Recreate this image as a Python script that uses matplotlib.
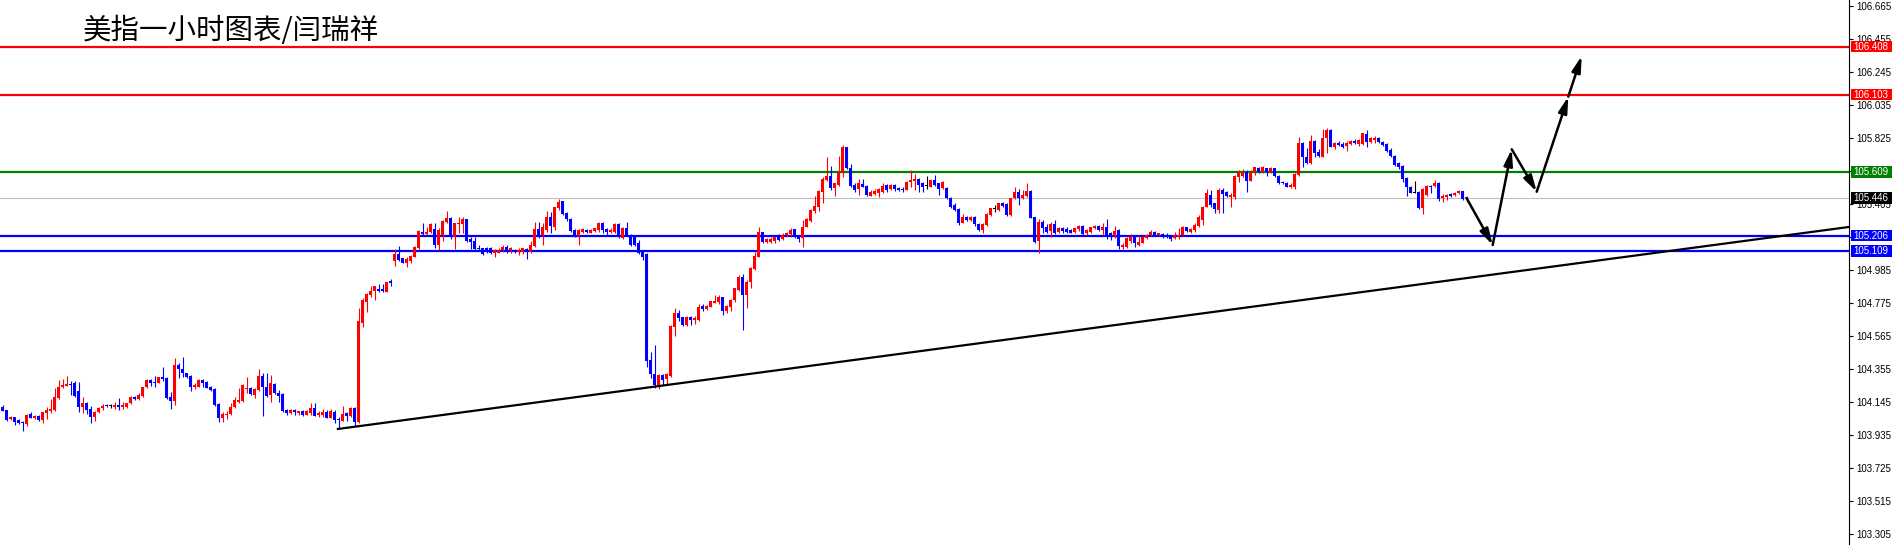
import matplotlib
matplotlib.use("Agg")
import matplotlib.pyplot as plt
import numpy as np
from matplotlib.patches import Rectangle
from matplotlib.transforms import blended_transform_factory

# hourly candles (index 0 = leftmost bar)
opens = [
    104.113, 104.096, 104.037, 104.050, 104.033, 104.022, 104.007, 104.069, 104.043, 104.058,
    104.033, 104.079, 104.092, 104.096, 104.171, 104.241, 104.251, 104.262, 104.266, 104.217,
    104.118, 104.139, 104.101, 104.054, 104.082, 104.107, 104.122, 104.120, 104.113, 104.128,
    104.118, 104.113, 104.139, 104.181, 104.166, 104.188, 104.241, 104.287, 104.270, 104.270,
    104.308, 104.302, 104.181, 104.156, 104.383, 104.355, 104.330, 104.313, 104.241, 104.245,
    104.287, 104.277, 104.245, 104.228, 104.135, 104.043, 104.063, 104.069, 104.118, 104.145,
    104.156, 104.228, 104.234, 104.192, 104.224, 104.313, 104.245, 104.192, 104.262, 104.202,
    104.196, 104.096, 104.075, 104.096, 104.075, 104.090, 104.065, 104.075, 104.107, 104.063,
    104.065, 104.086, 104.048, 104.086, 104.035, 104.029, 104.075, 104.058, 104.111, 104.022,
    104.648, 104.786, 104.829, 104.854, 104.867, 104.865, 104.850, 104.920, 105.045, 105.089,
    105.062, 105.030, 105.041, 105.072, 105.125, 105.231, 105.217, 105.227, 105.246, 105.147,
    105.210, 105.291, 105.320, 105.195, 105.280, 105.280, 105.312, 105.183, 105.172, 105.130,
    105.125, 105.125, 105.125, 105.094, 105.098, 105.111, 105.136, 105.111, 105.115, 105.104,
    105.104, 105.121, 105.104, 105.142, 105.248, 105.210, 105.242, 105.327, 105.263, 105.384,
    105.426, 105.352, 105.312, 105.242, 105.204, 105.231, 105.242, 105.225, 105.238, 105.242,
    105.289, 105.248, 105.227, 105.231, 105.280, 105.189, 105.253, 105.210, 105.195, 105.161,
    105.104, 105.089, 104.415, 104.324, 104.256, 104.320, 104.292, 104.313, 104.627, 104.716,
    104.687, 104.638, 104.691, 104.670, 104.670, 104.759, 104.737, 104.754, 104.780, 104.786,
    104.818, 104.723, 104.754, 104.793, 104.860, 104.945, 104.829, 104.913, 104.992, 105.072,
    105.231, 105.168, 105.168, 105.174, 105.210, 105.183, 105.210, 105.217, 105.246, 105.204,
    105.189, 105.263, 105.301, 105.365, 105.390, 105.486, 105.560, 105.585, 105.507, 105.528,
    105.602, 105.772, 105.633, 105.527, 105.500, 105.532, 105.521, 105.460, 105.470, 105.479,
    105.481, 105.527, 105.500, 105.527, 105.506, 105.500, 105.496, 105.549, 105.555, 105.563,
    105.538, 105.521, 105.517, 105.559, 105.538, 105.506, 105.506, 105.443, 105.400, 105.373,
    105.288, 105.326, 105.305, 105.326, 105.279, 105.241, 105.273, 105.337, 105.373, 105.368,
    105.411, 105.404, 105.337, 105.443, 105.485, 105.443, 105.457, 105.491, 105.326, 105.173,
    105.294, 105.262, 105.237, 105.279, 105.230, 105.252, 105.245, 105.241, 105.230, 105.245,
    105.267, 105.220, 105.230, 105.252, 105.267, 105.241, 105.258, 105.220, 105.203, 105.241,
    105.135, 105.135, 105.173, 105.199, 105.146, 105.161, 105.188, 105.209, 105.230, 105.209,
    105.212, 105.209, 105.203, 105.188, 105.194, 105.209, 105.258, 105.230, 105.241, 105.267,
    105.305, 105.390, 105.464, 105.411, 105.368, 105.496, 105.485, 105.453, 105.453, 105.580,
    105.585, 105.613, 105.556, 105.613, 105.634, 105.613, 105.634, 105.613, 105.634, 105.585,
    105.549, 105.543, 105.517, 105.517, 105.592, 105.797, 105.704, 105.666, 105.808, 105.740,
    105.708, 105.825, 105.878, 105.768, 105.797, 105.791, 105.776, 105.789, 105.808, 105.789,
    105.789, 105.852, 105.804, 105.814, 105.825, 105.804, 105.789, 105.751, 105.712, 105.666,
    105.649, 105.570, 105.517, 105.475, 105.486, 105.380, 105.464, 105.522, 105.522, 105.543,
    105.443, 105.449, 105.471, 105.464, 105.475, 105.492, 105.443,
]
highs = [
    104.128, 104.096, 104.060, 104.054, 104.037, 104.029, 104.071, 104.086, 104.062, 104.065,
    104.086, 104.118, 104.166, 104.234, 104.287, 104.296, 104.313, 104.283, 104.281, 104.277,
    104.181, 104.145, 104.122, 104.092, 104.118, 104.132, 104.132, 104.132, 104.149, 104.171,
    104.149, 104.143, 104.185, 104.185, 104.202, 104.245, 104.291, 104.294, 104.313, 104.308,
    104.368, 104.308, 104.213, 104.425, 104.393, 104.431, 104.334, 104.319, 104.266, 104.296,
    104.291, 104.281, 104.249, 104.234, 104.139, 104.086, 104.092, 104.143, 104.181, 104.234,
    104.262, 104.308, 104.241, 104.234, 104.355, 104.330, 104.330, 104.319, 104.266, 104.224,
    104.202, 104.101, 104.101, 104.103, 104.092, 104.096, 104.096, 104.139, 104.143, 104.090,
    104.101, 104.096, 104.101, 104.096, 104.054, 104.122, 104.086, 104.113, 104.118, 104.744,
    104.807, 104.839, 104.882, 104.886, 104.898, 104.898, 104.913, 104.928, 105.119, 105.140,
    105.066, 105.072, 105.083, 105.140, 105.242, 105.284, 105.263, 105.284, 105.284, 105.253,
    105.306, 105.363, 105.327, 105.289, 105.327, 105.327, 105.312, 105.195, 105.200, 105.147,
    105.130, 105.136, 105.136, 105.119, 105.125, 105.147, 105.147, 105.136, 105.121, 105.125,
    105.130, 105.130, 105.172, 105.291, 105.291, 105.284, 105.365, 105.359, 105.390, 105.439,
    105.426, 105.354, 105.316, 105.246, 105.248, 105.257, 105.248, 105.248, 105.257, 105.295,
    105.295, 105.257, 105.253, 105.284, 105.284, 105.259, 105.295, 105.214, 105.200, 105.178,
    105.111, 105.094, 104.468, 104.511, 104.324, 104.326, 104.330, 104.638, 104.744, 104.733,
    104.691, 104.695, 104.695, 104.695, 104.771, 104.771, 104.765, 104.792, 104.829, 104.829,
    104.818, 104.765, 104.801, 104.871, 104.956, 104.962, 104.924, 105.009, 105.104, 105.263,
    105.231, 105.189, 105.200, 105.200, 105.217, 105.221, 105.231, 105.253, 105.250, 105.208,
    105.306, 105.316, 105.373, 105.458, 105.496, 105.577, 105.708, 105.649, 105.543, 105.713,
    105.783, 105.772, 105.661, 105.538, 105.563, 105.563, 105.527, 105.496, 105.500, 105.506,
    105.538, 105.534, 105.534, 105.534, 105.517, 105.513, 105.553, 105.623, 105.597, 105.570,
    105.544, 105.585, 105.563, 105.591, 105.542, 105.553, 105.513, 105.449, 105.411, 105.379,
    105.341, 105.330, 105.330, 105.330, 105.284, 105.284, 105.347, 105.383, 105.400, 105.415,
    105.421, 105.411, 105.447, 105.513, 105.500, 105.496, 105.542, 105.496, 105.326, 105.309,
    105.305, 105.279, 105.294, 105.305, 105.258, 105.258, 105.262, 105.245, 105.252, 105.273,
    105.273, 105.245, 105.262, 105.273, 105.273, 105.284, 105.311, 105.231, 105.267, 105.245,
    105.156, 105.194, 105.216, 105.209, 105.209, 105.203, 105.216, 105.241, 105.237, 105.224,
    105.224, 105.220, 105.209, 105.230, 105.252, 105.267, 105.262, 105.252, 105.288, 105.337,
    105.394, 105.500, 105.496, 105.415, 105.506, 105.506, 105.489, 105.479, 105.591, 105.623,
    105.627, 105.623, 105.623, 105.645, 105.640, 105.649, 105.634, 105.645, 105.638, 105.589,
    105.556, 105.545, 105.539, 105.602, 105.835, 105.801, 105.761, 105.846, 105.814, 105.755,
    105.882, 105.893, 105.882, 105.804, 105.810, 105.804, 105.810, 105.814, 105.818, 105.818,
    105.861, 105.878, 105.831, 105.840, 105.831, 105.808, 105.793, 105.761, 105.719, 105.676,
    105.655, 105.581, 105.522, 105.553, 105.490, 105.507, 105.528, 105.528, 105.560, 105.549,
    105.471, 105.471, 105.475, 105.486, 105.496, 105.492, 105.458,
]
lows = [
    104.092, 104.029, 104.033, 104.001, 104.007, 103.965, 103.995, 104.043, 104.037, 104.029,
    104.016, 104.037, 104.075, 104.092, 104.164, 104.234, 104.249, 104.190, 104.181, 104.086,
    104.079, 104.071, 104.012, 104.029, 104.075, 104.096, 104.113, 104.111, 104.105, 104.096,
    104.105, 104.111, 104.132, 104.160, 104.160, 104.181, 104.234, 104.249, 104.245, 104.266,
    104.283, 104.164, 104.103, 104.128, 104.298, 104.304, 104.298, 104.219, 104.230, 104.241,
    104.245, 104.234, 104.217, 104.122, 104.022, 104.022, 104.041, 104.065, 104.111, 104.139,
    104.149, 104.202, 104.192, 104.171, 104.219, 104.058, 104.181, 104.149, 104.198, 104.149,
    104.086, 104.065, 104.071, 104.065, 104.065, 104.060, 104.063, 104.065, 104.058, 104.054,
    104.054, 104.043, 104.043, 104.016, 103.976, 104.029, 104.029, 104.054, 103.995, 104.016,
    104.627, 104.718, 104.818, 104.797, 104.846, 104.844, 104.844, 104.886, 105.013, 105.041,
    105.030, 105.009, 105.034, 105.068, 105.119, 105.210, 105.210, 105.221, 105.125, 105.111,
    105.174, 105.284, 105.183, 105.121, 105.221, 105.225, 105.168, 105.121, 105.115, 105.111,
    105.083, 105.094, 105.089, 105.068, 105.094, 105.104, 105.094, 105.094, 105.094, 105.083,
    105.089, 105.058, 105.098, 105.136, 105.189, 105.147, 105.231, 105.225, 105.242, 105.369,
    105.337, 105.301, 105.227, 105.195, 105.147, 105.225, 105.221, 105.221, 105.231, 105.231,
    105.221, 105.210, 105.221, 105.225, 105.189, 105.183, 105.204, 105.140, 105.140, 105.089,
    105.051, 104.369, 104.299, 104.235, 104.229, 104.256, 104.256, 104.309, 104.568, 104.665,
    104.631, 104.631, 104.638, 104.642, 104.665, 104.723, 104.733, 104.750, 104.776, 104.771,
    104.701, 104.716, 104.723, 104.786, 104.856, 104.606, 104.744, 104.871, 104.988, 105.068,
    105.157, 105.157, 105.157, 105.157, 105.174, 105.178, 105.204, 105.195, 105.189, 105.168,
    105.136, 105.259, 105.295, 105.352, 105.363, 105.412, 105.556, 105.496, 105.460, 105.522,
    105.577, 105.628, 105.517, 105.485, 105.464, 105.513, 105.460, 105.457, 105.462, 105.453,
    105.474, 105.485, 105.496, 105.491, 105.491, 105.485, 105.496, 105.517, 105.496, 105.485,
    105.485, 105.500, 105.513, 105.521, 105.464, 105.500, 105.436, 105.379, 105.364, 105.273,
    105.284, 105.301, 105.301, 105.267, 105.235, 105.220, 105.267, 105.330, 105.358, 105.364,
    105.385, 105.332, 105.332, 105.436, 105.400, 105.436, 105.453, 105.315, 105.156, 105.097,
    105.224, 105.220, 105.195, 105.216, 105.224, 105.220, 105.224, 105.220, 105.224, 105.237,
    105.209, 105.209, 105.224, 105.245, 105.237, 105.209, 105.182, 105.178, 105.188, 105.118,
    105.118, 105.125, 105.161, 105.135, 105.139, 105.156, 105.182, 105.203, 105.203, 105.203,
    105.188, 105.188, 105.173, 105.182, 105.182, 105.203, 105.230, 105.220, 105.230, 105.258,
    105.273, 105.385, 105.385, 105.351, 105.351, 105.351, 105.449, 105.390, 105.436, 105.549,
    105.576, 105.486, 105.553, 105.592, 105.606, 105.606, 105.587, 105.602, 105.581, 105.534,
    105.532, 105.513, 105.507, 105.503, 105.587, 105.645, 105.662, 105.662, 105.708, 105.708,
    105.704, 105.734, 105.768, 105.755, 105.776, 105.761, 105.746, 105.782, 105.787, 105.776,
    105.782, 105.772, 105.793, 105.793, 105.793, 105.776, 105.740, 105.704, 105.649, 105.628,
    105.549, 105.458, 105.475, 105.475, 105.375, 105.344, 105.458, 105.479, 105.513, 105.428,
    105.422, 105.433, 105.449, 105.458, 105.471, 105.433, 105.422,
]
closes = [
    104.092, 104.033, 104.054, 104.022, 104.016, 104.012, 104.065, 104.048, 104.058, 104.033,
    104.084, 104.096, 104.105, 104.177, 104.245, 104.255, 104.262, 104.258, 104.188, 104.118,
    104.139, 104.096, 104.054, 104.084, 104.111, 104.122, 104.120, 104.120, 104.130, 104.118,
    104.126, 104.139, 104.181, 104.166, 104.192, 104.245, 104.287, 104.266, 104.266, 104.304,
    104.291, 104.171, 104.154, 104.383, 104.355, 104.330, 104.308, 104.241, 104.253, 104.289,
    104.266, 104.238, 104.224, 104.128, 104.043, 104.069, 104.073, 104.118, 104.160, 104.160,
    104.255, 104.234, 104.198, 104.228, 104.313, 104.241, 104.188, 104.266, 104.202, 104.188,
    104.090, 104.075, 104.096, 104.086, 104.090, 104.065, 104.088, 104.107, 104.060, 104.080,
    104.086, 104.048, 104.090, 104.033, 104.033, 104.071, 104.058, 104.107, 104.022, 104.663,
    104.793, 104.835, 104.854, 104.882, 104.854, 104.854, 104.909, 104.903, 105.089, 105.051,
    105.034, 105.058, 105.077, 105.136, 105.236, 105.217, 105.231, 105.278, 105.147, 105.242,
    105.299, 105.320, 105.195, 105.284, 105.289, 105.312, 105.174, 105.168, 105.121, 105.121,
    105.089, 105.104, 105.094, 105.115, 105.115, 105.136, 105.104, 105.125, 105.104, 105.115,
    105.125, 105.115, 105.147, 105.248, 105.195, 105.259, 105.327, 105.270, 105.390, 105.422,
    105.342, 105.312, 105.236, 105.200, 105.242, 105.246, 105.227, 105.242, 105.253, 105.289,
    105.242, 105.227, 105.242, 105.278, 105.195, 105.253, 105.210, 105.147, 105.147, 105.094,
    105.072, 104.411, 104.326, 104.256, 104.320, 104.288, 104.326, 104.631, 104.716, 104.680,
    104.638, 104.691, 104.670, 104.680, 104.754, 104.737, 104.759, 104.790, 104.792, 104.818,
    104.723, 104.759, 104.797, 104.871, 104.945, 104.829, 104.913, 105.002, 105.077, 105.231,
    105.168, 105.183, 105.183, 105.195, 105.178, 105.210, 105.225, 105.242, 105.195, 105.183,
    105.263, 105.310, 105.369, 105.395, 105.492, 105.566, 105.585, 105.507, 105.539, 105.602,
    105.772, 105.634, 105.521, 105.496, 105.538, 105.517, 105.464, 105.485, 105.491, 105.500,
    105.523, 105.496, 105.527, 105.500, 105.496, 105.496, 105.549, 105.559, 105.566, 105.527,
    105.517, 105.521, 105.559, 105.527, 105.500, 105.549, 105.443, 105.385, 105.368, 105.284,
    105.326, 105.305, 105.326, 105.279, 105.241, 105.279, 105.343, 105.379, 105.373, 105.411,
    105.394, 105.337, 105.443, 105.485, 105.443, 105.464, 105.491, 105.315, 105.167, 105.294,
    105.252, 105.230, 105.279, 105.220, 105.252, 105.235, 105.230, 105.224, 105.252, 105.267,
    105.216, 105.241, 105.258, 105.267, 105.241, 105.258, 105.194, 105.203, 105.235, 105.139,
    105.146, 105.188, 105.194, 105.156, 105.167, 105.194, 105.209, 105.230, 105.209, 105.220,
    105.209, 105.194, 105.182, 105.209, 105.209, 105.262, 105.237, 105.245, 105.273, 105.326,
    105.390, 105.474, 105.400, 105.373, 105.496, 105.470, 105.457, 105.464, 105.585, 105.602,
    105.606, 105.556, 105.606, 105.640, 105.613, 105.640, 105.613, 105.634, 105.585, 105.543,
    105.539, 105.517, 105.528, 105.598, 105.797, 105.704, 105.666, 105.808, 105.729, 105.712,
    105.825, 105.878, 105.772, 105.797, 105.782, 105.768, 105.797, 105.808, 105.793, 105.814,
    105.857, 105.804, 105.825, 105.825, 105.799, 105.782, 105.746, 105.712, 105.655, 105.640,
    105.564, 105.513, 105.479, 105.475, 105.380, 105.500, 105.522, 105.513, 105.543, 105.437,
    105.458, 105.464, 105.458, 105.479, 105.492, 105.437, 105.446,
]

# horizontal price levels and their tag colours
levels = [106.408, 106.103, 105.609, 105.446, 105.206, 105.109]
level_colors = ["#ff0000", "#ff0000", "#008000", "#c0c0c0", "#0000ff", "#0000ff"]
tag_colors = ["#ff0000", "#ff0000", "#008000", "#000000", "#0000ff", "#0000ff"]

# rising support line (two anchor points, extended to the right)
trend_x = [84, 454]
trend_y = [103.976, 105.235]

# projected path drawn as arrows
path_x = [366, 372.5, 377.25, 383.5, 391.4, 394.75]
path_y = [105.443, 105.146, 105.755, 105.485, 106.090, 106.349]

yticks = [103.305, 103.515, 103.725, 103.935, 104.145, 104.355, 104.565, 104.775,
          104.985, 105.195, 105.405, 105.615, 105.825, 106.035, 106.245, 106.455, 106.665]

title = "美指一小时图表/闫瑞祥"

W, H = 1892, 545
AX_RIGHT = 1849
fig = plt.figure(figsize=(W / 100, H / 100), dpi=100, facecolor="white")
ax = fig.add_axes([0, 0, AX_RIGHT / W, 1])
ax.set_xlim(-0.675, 461.575)
ax.set_ylim(103.237, 106.705)

# candles
idx = np.arange(len(opens))
o = np.array(opens)
c = np.array(closes)
colors = np.where(c > o, "#ff0000", np.where(c < o, "#0000ff", "#000000"))
ax.vlines(idx, lows, highs, colors=colors, linewidth=0.8, zorder=3)
ax.bar(idx, np.maximum(np.abs(c - o), 0.0065), bottom=np.minimum(o, c), width=0.75,
       color=colors, linewidth=0, zorder=3)

# levels
for lvl, col in zip(levels, level_colors):
    lw = 0.8 if col == "#c0c0c0" else 1.6
    ax.axhline(lvl, color=col, linewidth=lw, zorder=2)

# trend line
slope = (trend_y[1] - trend_y[0]) / (trend_x[1] - trend_x[0])
x0 = 83.8
x1 = ax.get_xlim()[1]
ax.plot([x0, x1], [trend_y[0] + slope * (x0 - trend_x[0]), trend_y[0] + slope * (x1 - trend_x[0])],
        color="black", linewidth=1.6, zorder=4, clip_on=False)

# arrows
for k in range(len(path_x) - 1):
    ax.annotate("", xy=(path_x[k + 1], path_y[k + 1]), xytext=(path_x[k], path_y[k]),
                arrowprops=dict(arrowstyle="-|>,head_length=0.8,head_width=0.22",
                                color="black", lw=1.8, shrinkA=0, shrinkB=0,
                                mutation_scale=12), zorder=5)

# right price axis
for side in ["top", "left", "bottom"]:
    ax.spines[side].set_visible(False)
ax.spines["right"].set_linewidth(0.8)
ax.set_xticks([])
ax.yaxis.tick_right()
ax.set_yticks(yticks)
ax.set_yticklabels([f"{v:.3f}" for v in yticks], fontsize=7, family="Liberation Sans")
ax.tick_params(axis="y", direction="out", length=3, width=0.8, pad=2)

# tags on the price axis
trans = blended_transform_factory(fig.transFigure, ax.transData)
for lvl, col in zip(levels, tag_colors):
    ax.add_patch(Rectangle(((AX_RIGHT + 2) / W, lvl - 0.037), (W - AX_RIGHT - 2) / W, 0.074,
                           transform=trans, facecolor=col, edgecolor="none",
                           clip_on=False, zorder=10))
    ax.text((AX_RIGHT + 4) / W, lvl, f"{lvl:.3f}", transform=trans, color="white",
            fontsize=7, family="Liberation Sans", va="center", ha="left",
            clip_on=False, zorder=11)

fig.text(83 / W, 1 - 31 / H, title, fontsize=20.5,
         family=["Noto Sans CJK SC", "DejaVu Sans"], va="center", ha="left")

fig.savefig("out.png", dpi=100, facecolor="white")
